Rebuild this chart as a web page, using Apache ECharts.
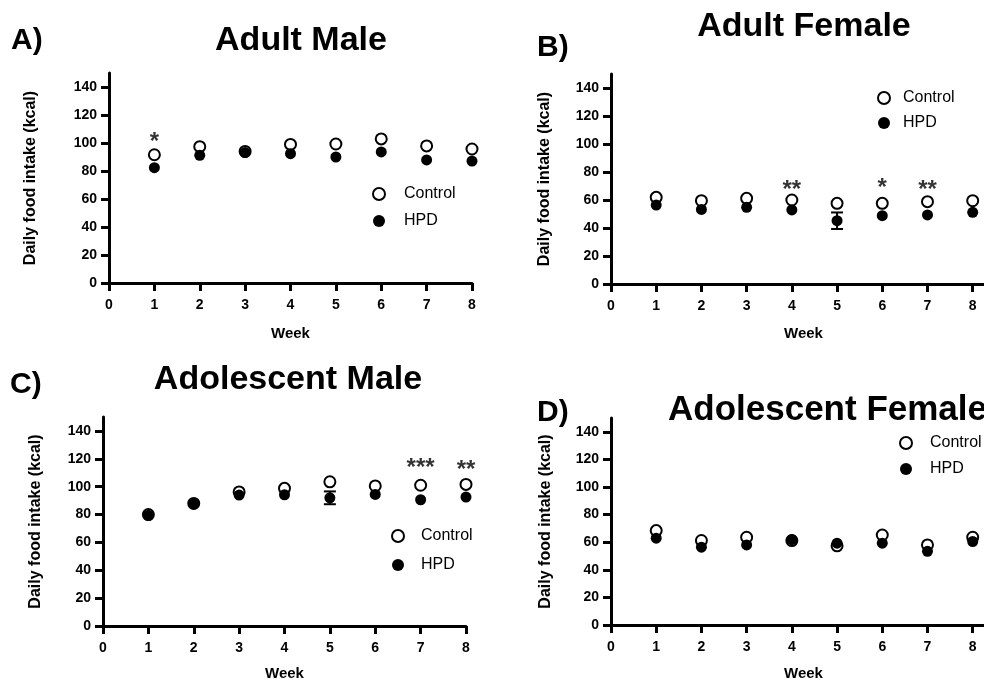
<!DOCTYPE html>
<html><head><meta charset="utf-8">
<script src="https://cdn.jsdelivr.net/npm/echarts@6/dist/echarts.min.js"></script>
<style>html,body{margin:0;padding:0;background:#fff}#c{width:984px;height:682px}</style>
</head><body><div id="c"></div>
<script>
// ---- data ----
const weeks = [1, 2, 3, 4, 5, 6, 7, 8];
const yTicks = [0, 20, 40, 60, 80, 100, 120, 140];
const xTicks = [0, 1, 2, 3, 4, 5, 6, 7, 8];
const titles = ['Adult Male', 'Adult Female', 'Adolescent Male', 'Adolescent Female'];
const panelLetters = ['A)', 'B)', 'C)', 'D)'];
const seriesNames = ['Control', 'HPD'];
const yAxisName = 'Daily food intake (kcal)';
const xAxisName = 'Week';

const controlA = [91.6, 97.4, 94.0, 99.0, 99.3, 102.9, 97.9, 95.7];
const hpdA     = [82.4, 91.2, 93.2, 92.4, 90.0, 93.6, 87.9, 87.1];
const controlSemA = [0, 0, 0, 0, 0, 0, 0, 0];
const hpdSemA     = [0, 0, 0, 0, 0, 0, 0, 0];
const sigWeeksA = [1];
const sigYA = [104.3];
const sigTextA = ['*'];

const controlB = [61.9, 59.5, 61.2, 60.0, 57.6, 57.6, 58.8, 59.5];
const hpdB     = [56.4, 53.3, 54.8, 52.9, 45.2, 48.8, 49.3, 51.2];
const controlSemB = [0, 0, 0, 0, 0, 0, 0, 0];
const hpdSemB     = [0, 0, 0, 0, 5.9, 0, 0, 0];
const sigWeeksB = [4, 6, 7];
const sigYB = [70.7, 72.0, 70.7];
const sigTextB = ['**', '*', '**'];

const controlC = [80.0, 88.0, 96.2, 98.8, 103.5, 100.5, 101.0, 101.6];
const hpdC     = [79.4, 87.6, 94.0, 94.2, 92.0, 94.4, 90.6, 92.5];
const controlSemC = [0, 0, 0, 0, 0, 0, 0, 0];
const hpdSemC     = [0, 0, 0, 0, 4.6, 0, 0, 0];
const sigWeeksC = [7, 8];
const sigYC = [117.0, 115.0];
const sigTextC = ['***', '**'];

const controlD = [68.4, 61.2, 63.6, 61.2, 57.4, 65.2, 58.0, 63.6];
const hpdD     = [62.9, 56.4, 58.0, 61.8, 59.3, 59.3, 53.4, 60.5];
const controlSemD = [0, 0, 0, 0, 0, 0, 0, 0];
const hpdSemD     = [0, 0, 0, 0, 0, 0, 0, 0];
const sigWeeksD = [];
const sigYD = [];
const sigTextD = [];

// ---- layout ----
const FONT = "'Liberation Sans', Arial, Helvetica, sans-serif";
const grids = [
  {left: 109, top: 73,  width: 363, height: 210},
  {left: 611, top: 74,  width: 373, height: 210},
  {left: 103, top: 417, width: 363, height: 210},
  {left: 611, top: 418, width: 373, height: 210}
];
const xMax = [8, 8.25, 8, 8.25];
const yNameGap = [70, 58, 59, 57];
const xNameGap = [43, 42, 40, 41];
const xNamePad = [0, 12, 0, 12];
const legendPos = [
  {left: 372, top: 186, gap: 27, pad: 14},
  {left: 877, top: 90,  gap: 25, pad: 8},
  {left: 391, top: 528, gap: 29, pad: 12},
  {left: 899, top: 435, gap: 26, pad: 13}
];
const titlePos = [
  {x: 301, y: 41, align: 'center', size: 34}, {x: 804, y: 27, align: 'center', size: 34},
  {x: 288, y: 380, align: 'center', size: 34}, {x: 668, y: 410, align: 'left', size: 35}
];
const letterPos = [
  {x: 11, y: 41}, {x: 537, y: 48}, {x: 10, y: 385}, {x: 537, y: 413}
];

const panels = [
  {c: controlA, h: hpdA, cs: controlSemA, hs: hpdSemA, sw: sigWeeksA, sy: sigYA, st: sigTextA},
  {c: controlB, h: hpdB, cs: controlSemB, hs: hpdSemB, sw: sigWeeksB, sy: sigYB, st: sigTextB},
  {c: controlC, h: hpdC, cs: controlSemC, hs: hpdSemC, sw: sigWeeksC, sy: sigYC, st: sigTextC},
  {c: controlD, h: hpdD, cs: controlSemD, hs: hpdSemD, sw: sigWeeksD, sy: sigYD, st: sigTextD}
];

const axisLine = {show: true, onZero: false, lineStyle: {color: '#000', width: 3}};
const axisTick = {show: true, inside: false, length: 8, lineStyle: {color: '#000', width: 3}};
const tickFont = {color: '#000', fontFamily: FONT, fontWeight: 'bold', fontSize: 14};

const xAxes = [], yAxes = [], series = [], legends = [], graphics = [];

function errRender(params, api) {
  const x = api.value(0), lo = api.value(1), hi = api.value(2);
  const p1 = api.coord([x, lo]), p2 = api.coord([x, hi]);
  const w = 6;
  const st = {stroke: '#000', lineWidth: 2};
  return {type: 'group', children: [
    {type: 'line', shape: {x1: p1[0], y1: p1[1], x2: p2[0], y2: p2[1]}, style: st},
    {type: 'line', shape: {x1: p1[0] - w, y1: p1[1], x2: p1[0] + w, y2: p1[1]}, style: st},
    {type: 'line', shape: {x1: p2[0] - w, y1: p2[1], x2: p2[0] + w, y2: p2[1]}, style: st}
  ]};
}

panels.forEach((p, i) => {
  xAxes.push({
    type: 'value', gridIndex: i, min: 0, max: xMax[i], interval: 1,
    axisLine, axisTick: Object.assign({customValues: xTicks}, axisTick),
    axisLabel: Object.assign({customValues: xTicks, margin: 15}, tickFont),
    splitLine: {show: false},
    name: xAxisName, nameLocation: 'middle', nameGap: xNameGap[i],
    nameTextStyle: {color: '#000', fontFamily: FONT, fontWeight: 'bold', fontSize: 15,
                    padding: [0, 0, 0, xNamePad[i]]}
  });
  yAxes.push({
    type: 'value', gridIndex: i, min: 0, max: 150,
    axisLine, axisTick: Object.assign({customValues: yTicks}, axisTick),
    axisLabel: Object.assign({customValues: yTicks, margin: 12}, tickFont),
    splitLine: {show: false},
    name: yAxisName, nameLocation: 'middle', nameGap: yNameGap[i], nameRotate: 90,
    nameTextStyle: {color: '#000', fontFamily: FONT, fontWeight: 'bold', fontSize: 16}
  });
  const errData = [];
  weeks.forEach((w, k) => {
    if (p.cs[k] > 0) errData.push([w, p.c[k] - p.cs[k], p.c[k] + p.cs[k]]);
    if (p.hs[k] > 0) errData.push([w, p.h[k] - p.hs[k], p.h[k] + p.hs[k]]);
  });
  series.push({
    type: 'custom', xAxisIndex: i, yAxisIndex: i, renderItem: errRender,
    data: errData, z: 1, silent: true
  });
  series.push({
    name: seriesNames[0], type: 'scatter', xAxisIndex: i, yAxisIndex: i,
    symbol: 'circle', symbolSize: 11, z: 2,
    itemStyle: {color: '#fff', borderColor: '#000', borderWidth: 2, opacity: 1},
    data: weeks.map((w, k) => [w, p.c[k]])
  });
  series.push({
    name: seriesNames[1], type: 'scatter', xAxisIndex: i, yAxisIndex: i,
    symbol: 'circle', symbolSize: 11, z: 3,
    itemStyle: {color: '#000', borderColor: '#000', borderWidth: 0, opacity: 1},
    data: weeks.map((w, k) => [w, p.h[k]])
  });
  series.push({
    type: 'scatter', xAxisIndex: i, yAxisIndex: i, symbolSize: 1, z: 4, silent: true,
    itemStyle: {color: 'rgba(0,0,0,0)'},
    label: {show: true, position: 'inside', formatter: q => q.name, color: '#000',
            fontFamily: FONT, fontWeight: 'bold', fontSize: 24, offset: [0, 5]},
    data: p.sw.map((w, k) => ({name: p.st[k], value: [w, p.sy[k]]}))
  });
  legends.push({
    data: seriesNames, orient: 'vertical', left: legendPos[i].left, top: legendPos[i].top,
    padding: 0, itemWidth: 12, itemHeight: 12, itemGap: legendPos[i].gap - 16,
    selectedMode: false,
    textStyle: {color: '#000', fontFamily: FONT, fontSize: 16, padding: [0, 0, 0, legendPos[i].pad]}
  });
  graphics.push({
    type: 'text', x: titlePos[i].x, y: titlePos[i].y,
    style: {text: titles[i], fill: '#000', font: 'bold ' + titlePos[i].size + 'px ' + FONT,
            textAlign: titlePos[i].align, textVerticalAlign: 'middle', verticalAlign: 'middle'}
  });
  graphics.push({
    type: 'text', x: letterPos[i].x, y: letterPos[i].y,
    style: {text: panelLetters[i], fill: '#000', font: 'bold 30px ' + FONT,
            textAlign: 'left', textVerticalAlign: 'middle', verticalAlign: 'middle'}
  });
});

const chart = echarts.init(document.getElementById('c'), null, {renderer: 'canvas'});
chart.setOption({
  backgroundColor: '#fff',
  animation: false,
  grid: grids.map(g => Object.assign({containLabel: false}, g)),
  xAxis: xAxes, yAxis: yAxes, legend: legends, series: series, graphic: graphics
});
</script></body></html>
